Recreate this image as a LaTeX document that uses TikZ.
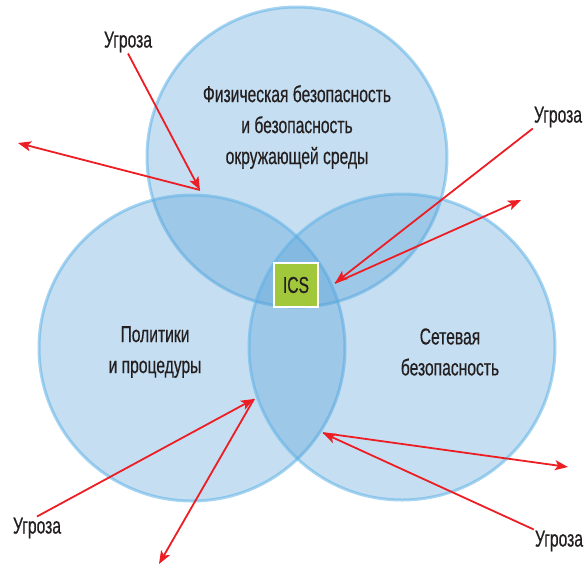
\documentclass[tikz,border=0pt]{standalone}
\usepackage{fontspec}
\setmainfont{Liberation Sans}[FakeStretch=0.68,FakeBold=0.5]
\usetikzlibrary{arrows.meta}
\definecolor{bleu}{RGB}{79,155,213}
\definecolor{bord}{RGB}{95,178,230}
\definecolor{vert}{RGB}{160,200,58}
\definecolor{rouge}{RGB}{236,30,36}
\definecolor{texte}{RGB}{35,31,32}
\begin{document}
\begin{tikzpicture}[x=1pt,y=-1pt,
    cercle/.style={fill=bleu,fill opacity=0.33,draw=bord,draw opacity=0.55,line width=3pt},
    menace/.style={draw=rouge,line width=1.8pt,-{Stealth[length=13pt,width=10pt,inset=3pt]}},
    etiq/.style={text=texte,font=\fontsize{23}{31}\selectfont,align=center,inner sep=1pt}]
    \useasboundingbox (0,0) rectangle (584,566);

    % les trois cercles
    \draw[cercle] (297,157) circle[radius=150];
    \draw[cercle] (192,348) circle[radius=153];
    \draw[cercle] (402,347) circle[radius=153];

    % textes
    \node[etiq] (phys) at (297,127) {Физическая безопасность\\и безопасность\\окружающей среды};
    \node[etiq] (polit) at (155,352) {Политики\\и процедуры};
    \node[etiq] (reseau) at (450,352) {Сетевая\\безопасность};
    \node[draw=white,line width=2pt,fill=vert,minimum size=44pt,inner sep=0pt,
          text=texte,font=\fontsize{23}{24}\selectfont] (ics) at (296,285) {ICS};

    \node[etiq] (u1) at (128,42) {Угроза};
    \node[etiq] (u2) at (558,117) {Угроза};
    \node[etiq] (u3) at (37,528) {Угроза};
    \node[etiq] (u4) at (559,541) {Угроза};

    % points d'impact et rebonds
    \coordinate (t1) at (200,190);
    \coordinate (b1) at (18,143);
    \coordinate (t2) at (335,283);
    \coordinate (b2) at (521,200);
    \coordinate (t3) at (254,399);
    \coordinate (b3) at (159,564);
    \coordinate (t4) at (323,433);
    \coordinate (b4) at (568,467);

    \draw[menace] (u1.south) -- (t1);
    \draw[menace] (t1) -- (b1);
    \draw[menace] (u2.south west) -- (t2);
    \draw[menace] (t2) -- (b2);
    \draw[menace] (u3.north) -- (t3);
    \draw[menace] (t3) -- (b3);
    \draw[menace] (u4.north west) -- (t4);
    \draw[menace] (t4) -- (b4);
\end{tikzpicture}
\end{document}
